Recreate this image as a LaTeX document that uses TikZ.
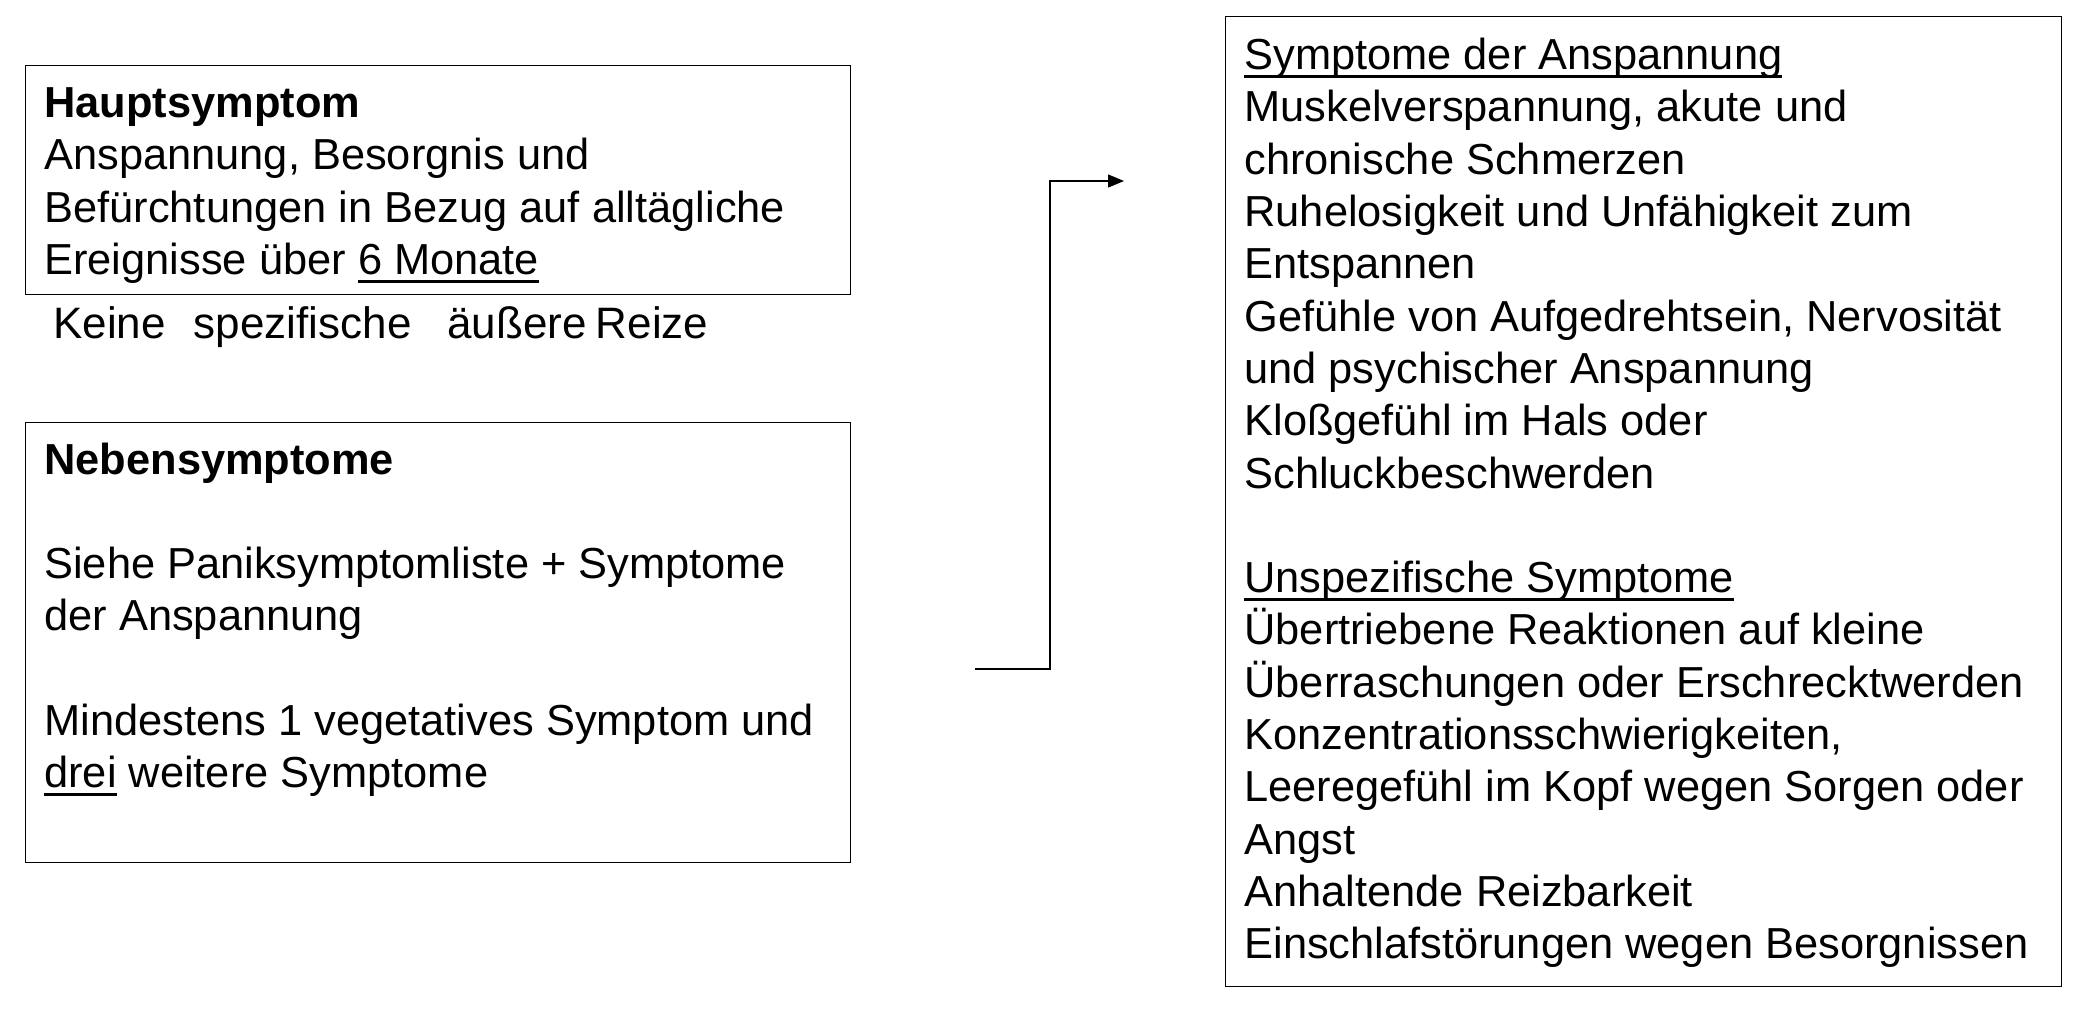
\documentclass[tikz,border=0pt]{standalone}
\usepackage{fontspec}
\setmainfont{Liberation Sans}
\usetikzlibrary{arrows.meta}
\newsavebox\myulbox
\newcommand\myul[1]{\sbox\myulbox{#1}\rlap{\rule[-0.19em]{\wd\myulbox}{0.065em}}\usebox\myulbox}
\begin{document}
\begin{tikzpicture}[x=0.5pt,y=-0.5pt,
  boxnode/.style={draw, line width=0.7pt, inner sep=0pt, anchor=north west},
  txt/.style={anchor=north west, inner sep=0pt, align=left,
    font=\fontsize{21.7pt}{26.15pt}\selectfont},
  hand/.style={anchor=base west, inner sep=0pt, font=\fontsize{22pt}{27pt}\selectfont},
  conn/.style={line width=0.7pt, -{Triangle[length=8pt,width=6.5pt]}}]
\useasboundingbox (0,0) rectangle (2086,1008);
\fill[white] (0,0) rectangle (2086,1008);

% boxes
\node[boxnode, minimum width=412.5pt, minimum height=114.5pt] (box1) at (25,65) {};
\node[boxnode, minimum width=412.5pt, minimum height=220pt] (box2) at (25,422) {};
\node[boxnode, minimum width=418pt, minimum height=485pt] (box3) at (1225,16) {};

% texts
\node[txt] (t1) at (44,80.4) {\strut\textbf{Hauptsymptom}\\
Anspannung, Besorgnis und\\
Befürchtungen in Bezug auf alltägliche\\
Ereignisse über \myul{6 Monate}};

\node[hand] (hw) at (53,338) {Keine\hspace{14pt}spezifische\hspace{18pt}äußere\hspace{4.5pt}Reize};

\node[txt] (t2) at (44,437) {\strut\textbf{Nebensymptome}\\[26.15pt]
Siehe Paniksymptomliste + Symptome\\
der Anspannung\\[26.15pt]
Mindestens 1 vegetatives Symptom und\\
\myul{drei} weitere Symptome};

\node[txt] (t3) at (1244,32.6) {\strut\myul{Symptome der Anspannung}\\
Muskelverspannung, akute und\\
chronische Schmerzen\\
Ruhelosigkeit und Unfähigkeit zum\\
Entspannen\\
Gefühle von Aufgedrehtsein, Nervosität\\
und psychischer Anspannung\\
Kloßgefühl im Hals oder\\
Schluckbeschwerden\\[26.15pt]
\myul{Unspezifische Symptome}\\
Übertriebene Reaktionen auf kleine\\
Überraschungen oder Erschrecktwerden\\
Konzentrationsschwierigkeiten,\\
Leeregefühl im Kopf wegen Sorgen oder\\
Angst\\
Anhaltende Reizbarkeit\\
Einschlafstörungen wegen Besorgnissen};

% connector
\coordinate (as) at (975,669);
\coordinate (bend) at (1050,181);
\coordinate (ae) at (1124,181);
\draw[conn] (as) -| (bend) -- (ae);
\end{tikzpicture}
\end{document}
